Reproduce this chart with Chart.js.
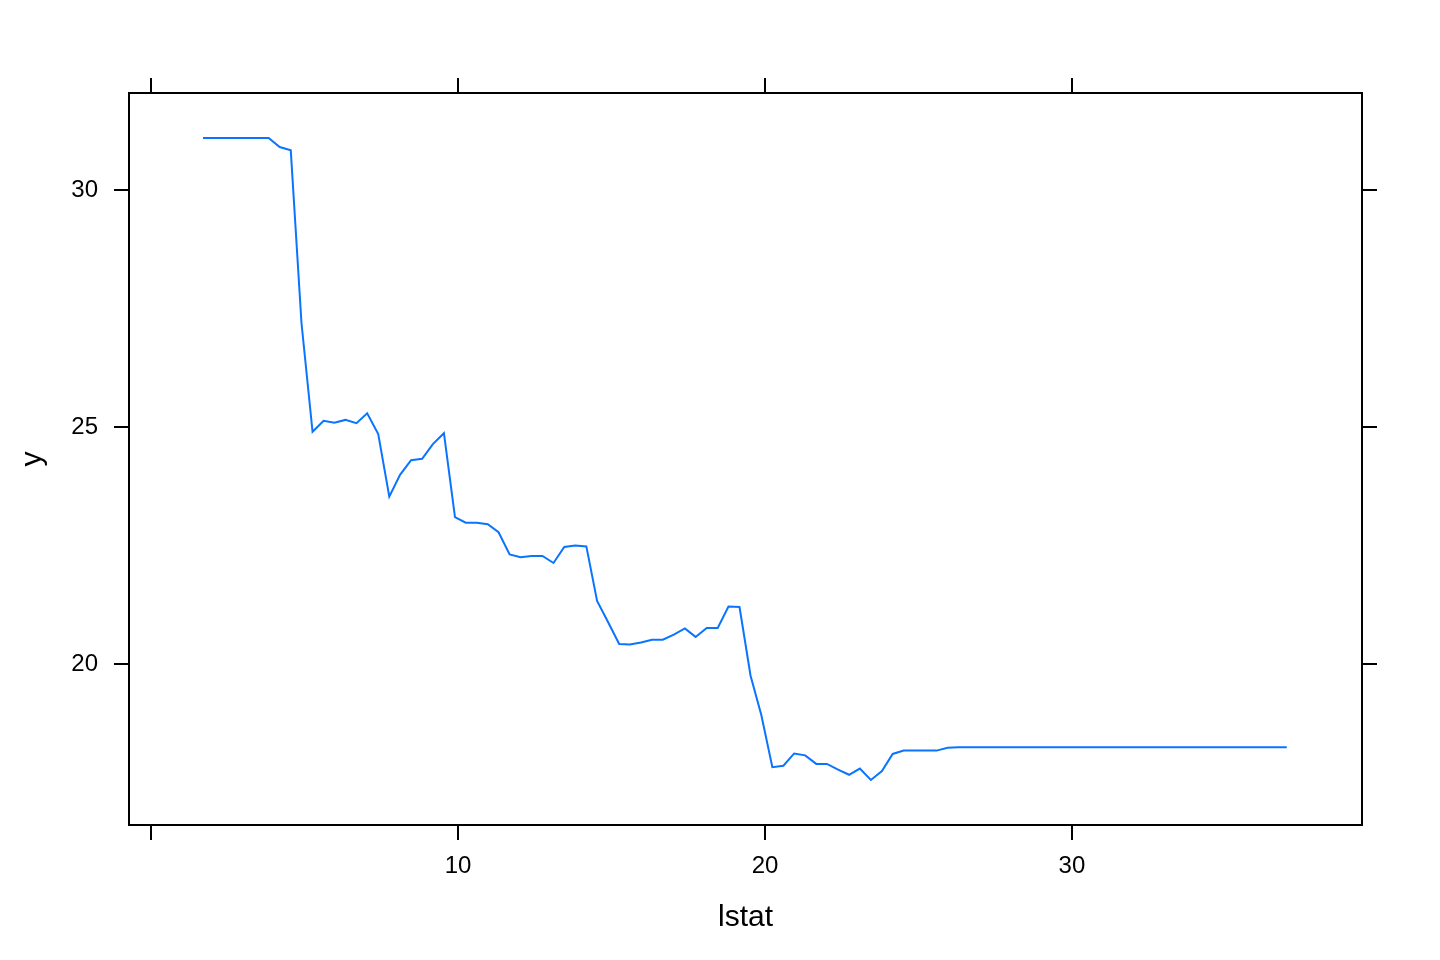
<!DOCTYPE html>
<html>
<head>
<meta charset="utf-8">
<title>lstat partial dependence</title>
<script src="https://cdn.jsdelivr.net/npm/chart.js@4.4.1/dist/chart.umd.min.js"></script>
<style>
  html, body { margin: 0; padding: 0; background: #fff; }
  #wrap { width: 1440px; height: 960px; }
</style>
</head>
<body>
<div id="wrap"><canvas id="myChart" width="1440" height="960"></canvas></div>
<script>
// grid of lstat values (x)
const lstatGrid = [
  1.69, 2.05, 2.41, 2.76, 3.12, 3.48, 3.83, 4.19, 4.55, 4.90,
  5.26, 5.62, 5.97, 6.33, 6.69, 7.04, 7.40, 7.76, 8.11, 8.47,
  8.83, 9.18, 9.54, 9.90, 10.25, 10.61, 10.97, 11.32, 11.68, 12.04,
  12.39, 12.75, 13.11, 13.46, 13.82, 14.18, 14.53, 14.89, 15.25, 15.60,
  15.96, 16.32, 16.67, 17.03, 17.39, 17.74, 18.10, 18.46, 18.81, 19.17,
  19.53, 19.88, 20.24, 20.60, 20.95, 21.31, 21.67, 22.02, 22.38, 22.74,
  23.09, 23.45, 23.81, 24.16, 24.52, 24.88, 25.23, 25.59, 25.95, 26.30,
  26.66, 27.02, 27.37, 27.73, 28.09, 28.44, 28.80, 29.16, 29.51, 29.87,
  30.23, 30.58, 30.94, 31.30, 31.65, 32.01, 32.37, 32.72, 33.08, 33.44,
  33.79, 34.15, 34.51, 34.86, 35.22, 35.58, 35.93, 36.29, 36.65, 37.00
];

// predicted y (partial dependence)
const yhat = [
  31.10, 31.10, 31.10, 31.10, 31.10, 31.10, 31.10, 30.91, 30.84, 27.19,
  24.90, 25.13, 25.09, 25.15, 25.08, 25.29, 24.85, 23.53, 23.99, 24.30,
  24.33, 24.64, 24.87, 23.10, 22.98, 22.98, 22.95, 22.78, 22.31, 22.25,
  22.28, 22.28, 22.13, 22.47, 22.50, 22.48, 21.33, 20.88, 20.42, 20.41,
  20.45, 20.51, 20.51, 20.62, 20.75, 20.57, 20.76, 20.76, 21.21, 21.20,
  19.75, 18.92, 17.82, 17.85, 18.11, 18.07, 17.89, 17.89, 17.77, 17.66,
  17.79, 17.55, 17.74, 18.10, 18.17, 18.17, 18.17, 18.17, 18.23, 18.24,
  18.24, 18.24, 18.24, 18.24, 18.24, 18.24, 18.24, 18.24, 18.24, 18.24,
  18.24, 18.24, 18.24, 18.24, 18.24, 18.24, 18.24, 18.24, 18.24, 18.24,
  18.24, 18.24, 18.24, 18.24, 18.24, 18.24, 18.24, 18.24, 18.24, 18.24
];

const xTicks = [0, 10, 20, 30];
const yTicks = [20, 25, 30];
const xLabel = "lstat";
const yLabel = "y";

const FONT = "'Liberation Sans', Arial, Helvetica, sans-serif";
const INK = "#000000";

function fixedTicks(list) {
  return (scale) => { scale.ticks = list.map(v => ({ value: v })); };
}

const axisGrid = {
  drawOnChartArea: false,
  drawTicks: true,
  tickLength: 15,
  color: INK,
  lineWidth: 2,
};
const axisBorder = { display: true, color: INK, width: 2 };

// axis titles drawn by hand so they sit where lattice puts them
const titles = {
  id: "titles",
  afterDraw(chart) {
    const { ctx, chartArea } = chart;
    ctx.save();
    ctx.fillStyle = INK;
    ctx.font = `30px ${FONT}`;
    ctx.textAlign = "center";
    ctx.textBaseline = "middle";
    ctx.fillText(xLabel, (chartArea.left + chartArea.right) / 2, 918);
    ctx.translate(33, (chartArea.top + chartArea.bottom) / 2);
    ctx.rotate(-Math.PI / 2);
    ctx.fillText(yLabel, 0, 0);
    ctx.restore();
  }
};

const data = {
  datasets: [{
    data: lstatGrid.map((x, i) => ({ x: x, y: yhat[i] })),
    borderColor: "#0a74ff",
    borderWidth: 2,
    pointRadius: 0,
    fill: false,
    tension: 0,
  }]
};

const config = {
  type: "line",
  data,
  options: {
    responsive: false,
    animation: false,
    devicePixelRatio: 1,
    layout: { padding: 0 },
    plugins: {
      legend: { display: false },
      tooltip: { enabled: false },
    },
    scales: {
      x: {
        type: "linear",
        position: "bottom",
        min: -0.72,
        max: 39.45,
        afterBuildTicks: fixedTicks(xTicks),
        afterFit: (s) => { s.height = 135; },
        grid: axisGrid,
        border: axisBorder,
        ticks: {
          color: INK,
          font: { family: FONT, size: 24 },
          padding: 12,
          maxRotation: 0,
          callback: (v) => (v === 0 ? "" : v),
        },
      },
      x2: {
        type: "linear",
        position: "top",
        min: -0.72,
        max: 39.45,
        afterBuildTicks: fixedTicks(xTicks),
        afterFit: (s) => { s.height = 93; },
        grid: axisGrid,
        border: axisBorder,
        ticks: { display: false },
      },
      y: {
        type: "linear",
        position: "left",
        min: 16.6,
        max: 32.05,
        afterBuildTicks: fixedTicks(yTicks),
        afterFit: (s) => { s.width = 129; },
        grid: axisGrid,
        border: axisBorder,
        ticks: {
          color: INK,
          font: { family: FONT, size: 24 },
          padding: 16,
        },
      },
      y2: {
        type: "linear",
        position: "right",
        min: 16.6,
        max: 32.05,
        afterBuildTicks: fixedTicks(yTicks),
        afterFit: (s) => { s.width = 78; },
        grid: axisGrid,
        border: axisBorder,
        ticks: { display: false },
      },
    },
  },
  plugins: [titles],
};

const myChart = new Chart(document.getElementById("myChart"), config);
</script>
</body>
</html>
